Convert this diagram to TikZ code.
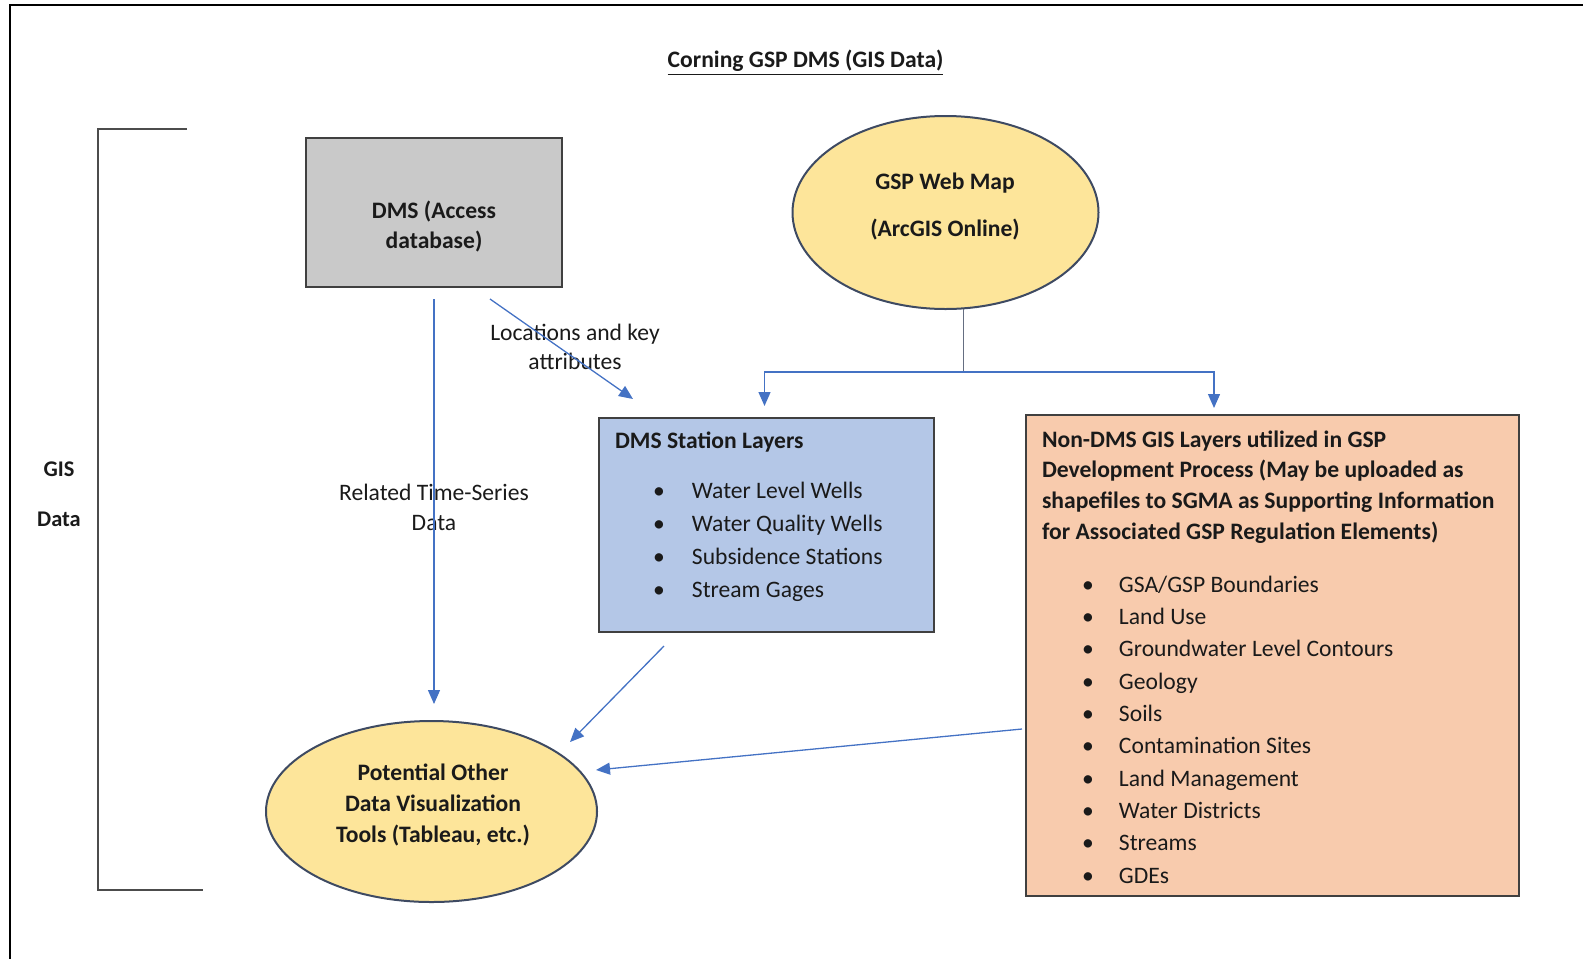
\documentclass[tikz,border=0pt]{standalone}
\usepackage{fontspec}
\setmainfont{Carlito}
\usetikzlibrary{arrows.meta,shapes.geometric,calc}
\definecolor{connc}{HTML}{4472C4}
\definecolor{grayfill}{HTML}{C9C9C9}
\definecolor{yellowfill}{HTML}{FDE59A}
\definecolor{bluefill}{HTML}{B4C7E7}
\definecolor{orangefill}{HTML}{F8CBAD}
\definecolor{edgedark}{HTML}{3E4A62}
\definecolor{txt}{HTML}{1A1A1A}
\begin{document}
\begin{tikzpicture}[x=0.5pt,y=-0.5pt,
  every node/.style={inner sep=0pt, outer sep=0pt, text=txt},
  boxshape/.style={draw=black!75, line width=0.75pt, rectangle},
  ellshape/.style={draw=edgedark, line width=1pt, ellipse},
  bodyfont/.style={font=\fontsize{11.8}{15}\selectfont},
  boldfont/.style={font=\bfseries\fontsize{11.8}{15}\selectfont},
  conn/.style={draw=connc, line width=0.65pt, -{Triangle[length=7pt,width=6pt,fill=connc]}},
  connline/.style={draw=connc, line width=0.65pt}]
\useasboundingbox (0,0) rectangle (1583,959);
% frame
\draw[line width=1pt, black] (1583,5) -- (10,5) -- (10,959);
% title
\node[boldfont] (title) at (805.6,63) {\underline{Corning GSP DMS (GIS Data)}};
% bracket
\draw[line width=0.8pt, black!70] (187,129) -- (98,129) -- (98,890) -- (203,890);
\node[align=center, font=\bfseries\fontsize{11.2}{25}\selectfont] (gis) at (59,494) {GIS\\Data};
% DMS access box
\node[boxshape, fill=grayfill, minimum width=128pt, minimum height=74.5pt] (dms) at (434,212.5) {};
\node[boldfont, align=center] (dmstxt) at (434,227) {DMS (Access\\database)};
% GSP web map
\node[ellshape, fill=yellowfill, minimum width=153pt, minimum height=96.5pt] (gsp) at (945.5,212.5) {};
\node[align=center, font=\bfseries\fontsize{11.8}{23.5}\selectfont] (gsptxt) at (945,206.5) {GSP Web Map\\(ArcGIS Online)};
% DMS station layers
\node[boxshape, fill=bluefill, minimum width=167.5pt, minimum height=107pt] (dmsst) at (766.5,525) {};
\node[boldfont, anchor=west] (dmssttitle) at (615,442) {DMS Station Layers};
\node[align=left, anchor=west, font=\fontsize{11.8}{16.5}\selectfont] (dmsstlist) at (653,541.5)
 {\makebox[19.5pt][l]{\textbullet}Water Level Wells\\
  \makebox[19.5pt][l]{\textbullet}Water Quality Wells\\
  \makebox[19.5pt][l]{\textbullet}Subsidence Stations\\
  \makebox[19.5pt][l]{\textbullet}Stream Gages};
% Non-DMS box
\node[boxshape, fill=orangefill, minimum width=246.5pt, minimum height=240.5pt] (nondms) at (1272.5,655.5) {};
\node[align=left, anchor=west, font=\bfseries\fontsize{11.8}{15.35}\selectfont] (nondmstitle) at (1042,487)
 {Non-DMS GIS Layers utilized in GSP\\
  Development Process (May be uploaded as\\
  shapefiles to SGMA as Supporting Information\\
  for Associated GSP Regulation Elements)};
\node[align=left, anchor=west, font=\fontsize{11.8}{16.17}\selectfont] (nondmslist) at (1082,729.5)
 {\makebox[18.5pt][l]{\textbullet}GSA/GSP Boundaries\\
  \makebox[18.5pt][l]{\textbullet}Land Use\\
  \makebox[18.5pt][l]{\textbullet}Groundwater Level Contours\\
  \makebox[18.5pt][l]{\textbullet}Geology\\
  \makebox[18.5pt][l]{\textbullet}Soils\\
  \makebox[18.5pt][l]{\textbullet}Contamination Sites\\
  \makebox[18.5pt][l]{\textbullet}Land Management\\
  \makebox[18.5pt][l]{\textbullet}Water Districts\\
  \makebox[18.5pt][l]{\textbullet}Streams\\
  \makebox[18.5pt][l]{\textbullet}GDEs};
% Potential other tools
\node[ellshape, fill=yellowfill, minimum width=165.5pt, minimum height=90.5pt] (pot) at (431.5,811.5) {};
\node[align=center, font=\bfseries\fontsize{11.8}{15.5}\selectfont] (pottxt) at (433,805) {Potential Other\\Data Visualization\\Tools (Tableau, etc.)};
% connector labels
\node[align=center, font=\fontsize{11.8}{14.7}\selectfont] (loclbl) at (575,347) {Locations and key\\attributes};
\node[bodyfont, align=center] (rellbl) at (434,507) {Related Time-Series\\Data};
% connectors
\draw[conn, shorten <=6pt, shorten >=8.5pt] (dms.south) -- (dms.south |- pot.north);
\draw[conn] ([xshift=-36pt,yshift=-6pt]dms.south east) -- ([xshift=17pt,yshift=9.5pt]dmsst.north west);
\coordinate (split) at ($(gsp.south)+(18,63)$);
\draw[connline, draw=edgedark!80] (split |- gsp.south) -- (split);
\draw[conn, shorten >=6pt] (split) -| ([xshift=-1pt]dmsst.north);
\draw[conn, shorten >=3.5pt] (split) -| ([xshift=-29.25pt]nondms.north);
\draw[conn] ([xshift=32.5pt,yshift=-7pt]dmsst.south west) -- ([xshift=69.25pt,yshift=34.75pt]pot.center);
\draw[conn] ([xshift=-2pt,yshift=-36.75pt]nondms.west) -- ([xshift=82.25pt,yshift=20.75pt]pot.center);
\end{tikzpicture}
\end{document}
